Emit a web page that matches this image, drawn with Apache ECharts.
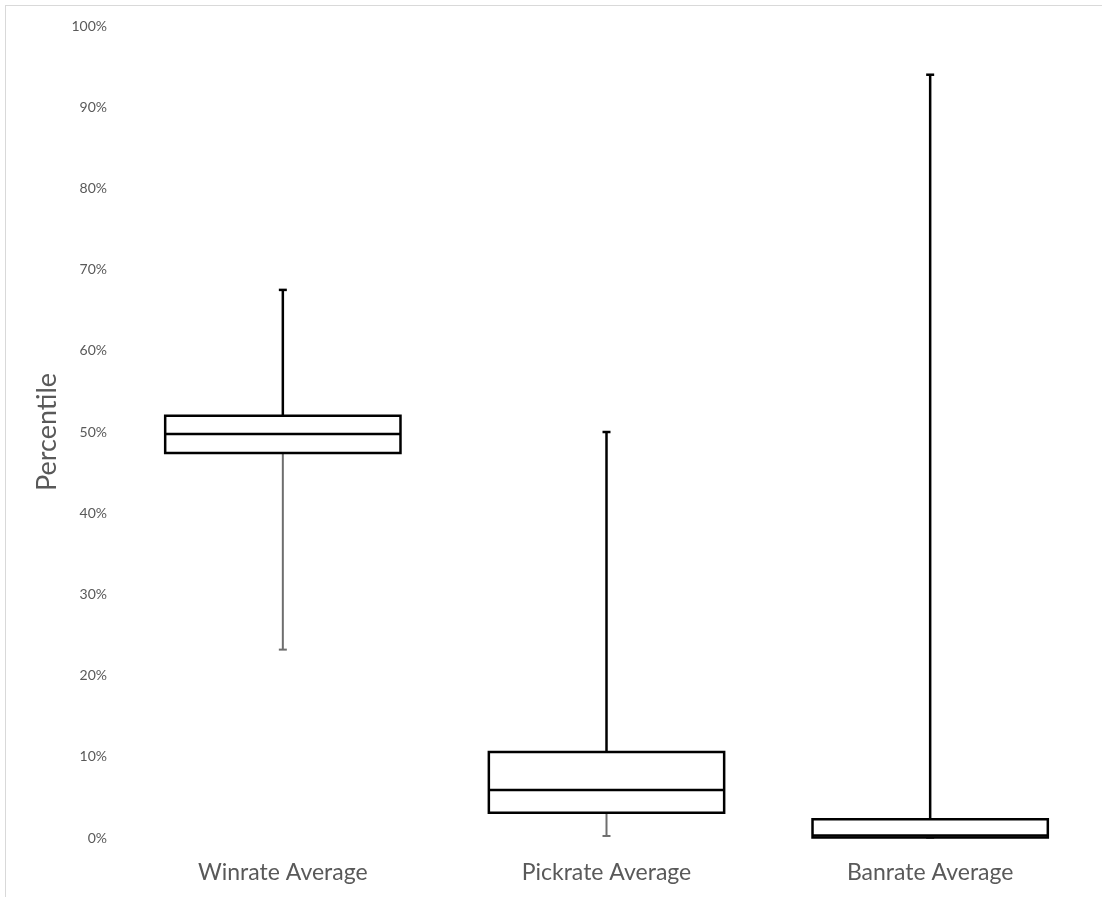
<!DOCTYPE html>
<html>
<head>
<meta charset="utf-8">
<script src="https://cdn.jsdelivr.net/npm/echarts@6/dist/echarts.min.js"></script>
<style>
html,body{margin:0;padding:0;background:#fff;}
#frame{position:absolute;left:5px;top:5px;width:1200px;height:1000px;border-left:1px solid #d9d9d9;border-top:1px solid #d9d9d9;}
#chart{position:absolute;left:0;top:0;width:1102px;height:897px;}
</style>
</head>
<body>
<div id="frame"></div>
<div id="chart"></div>
<script>
const categories = ['Winrate Average', 'Pickrate Average', 'Banrate Average'];
const mins    = [23.2, 0.25, 0];
const q1s     = [47.4, 3.1, 0.05];
const medians = [49.75, 5.9, 0.3];
const q3s     = [52.0, 10.6, 2.3];
const maxs    = [67.5, 50.0, 94.0];
const yTicks  = [0, 10, 20, 30, 40, 50, 60, 70, 80, 90, 100];

const boxData = categories.map((c, i) => [i, mins[i], q1s[i], medians[i], q3s[i], maxs[i]]);

const chart = echarts.init(document.getElementById('chart'), null, {renderer: 'canvas'});

function renderItem(params, api) {
  const idx = api.value(0);
  const pMin = api.coord([idx, api.value(1)]);
  const pQ1 = api.coord([idx, api.value(2)]);
  const pMed = api.coord([idx, api.value(3)]);
  const pQ3 = api.coord([idx, api.value(4)]);
  const pMax = api.coord([idx, api.value(5)]);
  const band = api.size([1, 0])[0];
  const w = band * 0.727;
  const x = pMed[0];
  const capW = 8;
  const black = {stroke: '#000', lineWidth: 2.5, fill: null};
  const grey = {stroke: '#6e6e6e', lineWidth: 2, fill: null};
  return {
    type: 'group',
    children: [
      {type: 'line', shape: {x1: x, y1: pQ3[1], x2: x, y2: pMax[1]}, style: black},
      {type: 'line', shape: {x1: x - capW / 2, y1: pMax[1], x2: x + capW / 2, y2: pMax[1]}, style: black},
      {type: 'line', shape: {x1: x, y1: pQ1[1], x2: x, y2: pMin[1]}, style: grey},
      {type: 'line', shape: {x1: x - capW / 2, y1: pMin[1], x2: x + capW / 2, y2: pMin[1]}, style: grey},
      {type: 'rect', shape: {x: x - w / 2, y: pQ3[1], width: w, height: pQ1[1] - pQ3[1]}, style: {stroke: '#000', lineWidth: 2.5, fill: '#fff'}},
      {type: 'line', shape: {x1: x - w / 2, y1: pMed[1], x2: x + w / 2, y2: pMed[1]}, style: black}
    ]
  };
}

chart.setOption({
  animation: false,
  backgroundColor: 'transparent',
  grid: {left: 121, right: 10, top: 26, bottom: 59, containLabel: false},
  xAxis: {
    type: 'category',
    data: categories,
    axisLine: {show: false},
    axisTick: {show: false},
    axisLabel: {color: '#595959', fontSize: 23, fontFamily: 'Lato', margin: 23}
  },
  yAxis: {
    type: 'value',
    min: yTicks[0],
    max: yTicks[yTicks.length - 1],
    interval: 10,
    name: 'Percentile',
    nameLocation: 'middle',
    nameGap: 60,
    nameTextStyle: {color: '#595959', fontSize: 27, fontFamily: 'Lato'},
    axisLine: {show: false},
    axisTick: {show: false},
    splitLine: {show: false},
    axisLabel: {color: '#595959', fontSize: 14, fontFamily: 'Lato', margin: 14, formatter: '{value}%'}
  },
  series: [{
    type: 'custom',
    renderItem: renderItem,
    encode: {x: 0, y: [1, 2, 3, 4, 5]},
    data: boxData
  }]
});
</script>
</body>
</html>
